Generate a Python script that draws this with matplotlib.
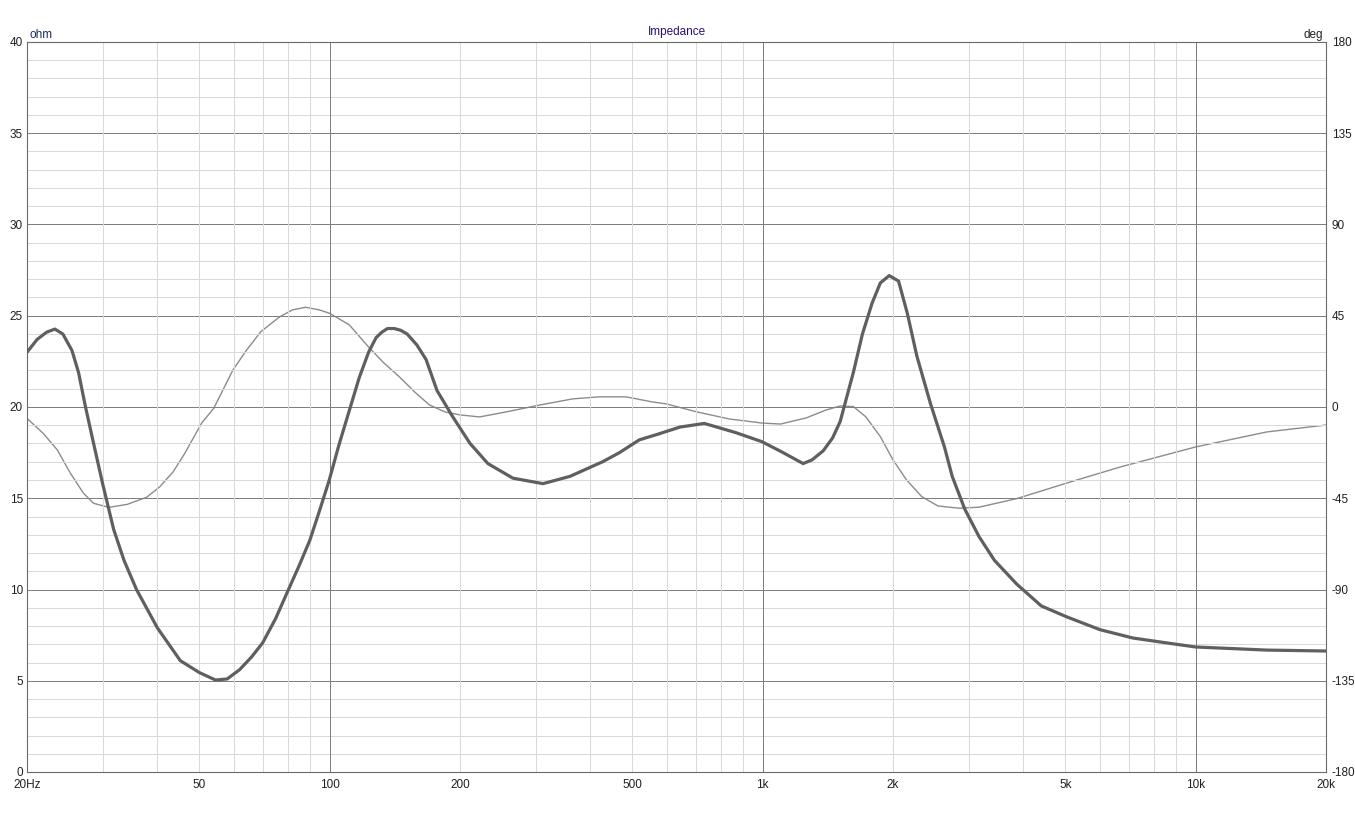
import matplotlib
matplotlib.use('Agg')
import matplotlib.pyplot as plt
from matplotlib.ticker import FixedLocator, NullFormatter

plt.rcParams['axes.unicode_minus'] = False
plt.rcParams['font.family'] = ['Liberation Sans', 'DejaVu Sans']

# impedance magnitude (ohm)
imp_freq = [20, 21.1, 22.2, 23.2, 24.2, 25.4, 26.3, 27.3, 28.5, 29.9, 31.7, 33.5,
            35.8, 40, 45.2, 50, 54.5, 58, 61.9, 66, 70, 75, 80, 85, 90, 95, 99.8,
            105, 111, 117, 123, 128, 132, 136, 141, 146, 151, 159, 167, 177, 192,
            211, 232, 265, 311, 359, 427, 467, 519, 571, 644, 733, 866, 996,
            1115, 1240, 1300, 1380, 1450, 1510, 1620, 1700, 1790, 1870, 1960,
            2060, 2160, 2270, 2440, 2630, 2740, 2930, 3160, 3430, 3860, 4400,
            5040, 6010, 7170, 8590, 10000, 14600, 20000]
imp_ohm = [23.0, 23.7, 24.1, 24.27, 24.0, 23.1, 21.9, 20.0, 18.0, 15.8, 13.3, 11.6,
           10.0, 7.9, 6.1, 5.45, 5.04, 5.1, 5.6, 6.3, 7.07, 8.4, 9.9, 11.3, 12.7, 14.4, 16.0,
           17.9, 19.8, 21.6, 23.0, 23.8, 24.1, 24.3, 24.3, 24.2, 24.0, 23.4, 22.6, 20.9, 19.5,
           18.0, 16.9, 16.1, 15.8, 16.2, 17.0, 17.5, 18.2, 18.5, 18.9, 19.1, 18.6, 18.1,
           17.5, 16.9, 17.1, 17.6, 18.3, 19.2, 21.9, 24.0, 25.7, 26.8, 27.2,
           26.9, 25.1, 22.8, 20.2, 17.8, 16.2, 14.4, 12.9, 11.6, 10.3, 9.1,
           8.5, 7.8, 7.34, 7.07, 6.85, 6.68, 6.63]

# phase (deg)
ph_freq = [20, 21.8, 23.5, 25.2, 27.0, 28.5, 30.9, 34.1, 37.8, 40.5, 43.5, 46.3,
           50.6, 54.0, 59.8, 64.3, 69.4, 76.7, 82.1, 88, 94.6, 100, 111, 123, 133,
           145, 157, 170, 185, 200, 222, 256, 306, 364, 419, 484, 556, 600, 704,
           837, 996, 1100, 1260, 1400, 1510, 1620, 1730, 1870, 2000, 2150, 2330,
           2540, 2840, 3160, 3860, 5040, 6690, 10000, 14600, 20000]
ph_deg = [-5.6, -13.0, -21.2, -32.7, -42.5, -47.5, -49.5, -48.0, -44.5, -39.4, -32.0, -22.8,
          -8.0, -0.6, 18.3, 28.1, 37.2, 44.5, 47.9, 49.2, 47.9, 46.2, 40.5, 29.6, 22.0,
          14.8, 7.5, 1.0, -2.5, -3.9, -4.9, -2.4, 1.0, 4.0, 5.0, 5.0, 2.5, 1.5, -2.4,
          -5.9, -7.9, -8.4, -5.4, -1.5, 0.5, 0.2, -4.8, -14.6, -26.1, -36.0, -44.2,
          -48.8, -49.9, -49.4, -45.2, -37.5, -29.6, -19.7, -12.3, -8.9]

x_major = [100, 1000, 10000]
x_minor = [30, 40, 50, 60, 70, 80, 90, 200, 300, 400, 500, 600, 700, 800, 900,
           2000, 3000, 4000, 5000, 6000, 7000, 8000, 9000]
x_labels = {20: '20Hz', 50: '50', 100: '100', 200: '200', 500: '500', 1000: '1k',
            2000: '2k', 5000: '5k', 10000: '10k', 20000: '20k'}

W, H = 1355, 819
fig = plt.figure(figsize=(W / 100, H / 100), dpi=100)
ax = fig.add_axes([27 / W, (H - 772) / H, 1299 / W, 730 / H])
ax2 = ax.twinx()

ax.set_xscale('log')
ax.set_xlim(20, 20000)
ax.set_ylim(0, 40)
ax2.set_ylim(-180, 180)

light = '#d9d9d9'
dark = '#7f7f7f'
px = 0.72  # one pixel at 100 dpi

# grid lines, crisp 1px like the original
for y in range(1, 40):
    ax.axhline(y, color=dark if y % 5 == 0 else light, lw=px, zorder=0,
               antialiased=False)
for f in x_minor:
    ax.axvline(f, color=light, lw=px, zorder=0, antialiased=False)
for f in x_major:
    ax.axvline(f, color=dark, lw=px, zorder=0, antialiased=False)

for s in ax.spines.values():
    s.set_color('#6a6a6a')
for s in ax2.spines.values():
    s.set_visible(False)

ax2.plot(ph_freq, ph_deg, color='#8c8c8c', lw=1.0, zorder=3)
ax.plot(imp_freq, imp_ohm, color='#5f5f5f', lw=2.3, zorder=4,
        solid_joinstyle='round', solid_capstyle='round')
ax.set_zorder(ax2.get_zorder() + 1)
ax.patch.set_visible(False)

# ticks
ax.xaxis.set_major_locator(FixedLocator(list(x_labels.keys())))
ax.set_xticklabels(list(x_labels.values()))
ax.xaxis.set_minor_formatter(NullFormatter())
ax.xaxis.set_minor_locator(FixedLocator([]))
ax.set_yticks(range(0, 41, 5))
ax2.set_yticks(range(-180, 181, 45))
ax.tick_params(axis='x', length=0, labelsize=8.5, colors='#202020', pad=5)
ax.tick_params(axis='y', length=0, labelsize=8.5, colors='#202020', pad=3)
ax2.tick_params(axis='y', length=0, labelsize=8.5, colors='#202020', pad=4)

ax.text(0.002, 1.002, 'ohm', transform=ax.transAxes, fontsize=8.5, color='#1a2a60',
        ha='left', va='bottom')
ax.text(0.9975, 1.002, 'deg', transform=ax.transAxes, fontsize=8.5, color='#202020',
        ha='right', va='bottom')
ax.text(0.5, 1.006, 'Impedance', transform=ax.transAxes, fontsize=8.5,
        color='#2a1070', ha='center', va='bottom')

fig.savefig('out.png', dpi=100, facecolor='white')
